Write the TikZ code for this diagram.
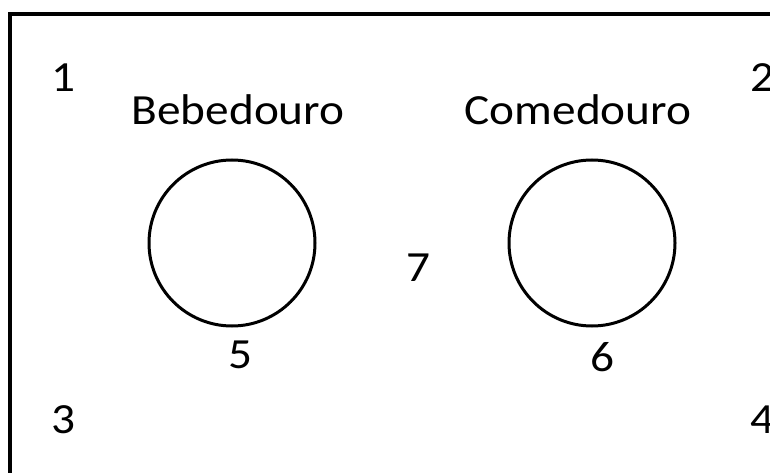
\documentclass[tikz,border=0pt]{standalone}
\usepackage{fontspec}
\setmainfont{Carlito}
\usetikzlibrary{positioning}

\begin{document}
\begin{tikzpicture}[
    x=1pt, y=-1pt,
    every node/.style={font=\fontsize{43}{47}\selectfont, inner sep=0pt},
    label text/.style={xscale=1.1},
    trough/.style={circle, draw=black, line width=3pt, minimum size=166pt},
  ]
  \useasboundingbox (0,0) rectangle (770,473);
  \clip (0,0) rectangle (770,473);

  % pen outline (runs past the right and bottom edges)
  \draw[line width=4pt] (10,14) rectangle (820,520);

  % corners
  \node[label text] (c1) at (63,78) {1};
  \node[label text] (c2) at (762,78) {2};
  \node[label text] (c3) at (63,420) {3};
  \node[label text] (c4) at (762,420) {4};

  % bebedouro / comedouro
  \node[trough] (beb) at (232,243) {};
  \node[trough] (com) at (592,243) {};
  \node[label text] (bebl) at (238,110) {Bebedouro};
  \node[label text] (coml) at (578,110) {Comedouro};

  \node[label text] (p5) at (240,355) {5};
  \node[label text] (p6) at (602,357) {6};
  \node[label text] (p7) at (418,268) {7};
\end{tikzpicture}
\end{document}
